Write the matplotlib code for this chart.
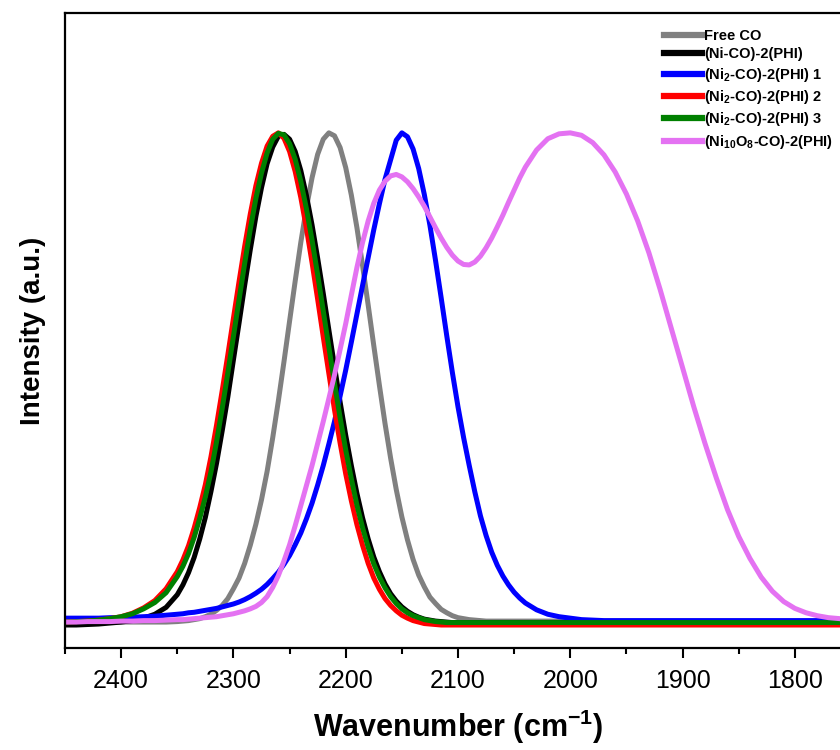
import numpy as np
import matplotlib
matplotlib.use('Agg')
import matplotlib.pyplot as plt
from matplotlib.ticker import MultipleLocator

plt.rcParams['font.family'] = 'Liberation Sans'
plt.rcParams['mathtext.fontset'] = 'custom'
plt.rcParams['mathtext.rm'] = 'Liberation Sans:bold'
plt.rcParams['mathtext.bf'] = 'Liberation Sans:bold'
plt.rcParams['mathtext.default'] = 'bf'

# wavenumber grid (cm-1): coarse at the ends, finer across the peaks
wn = np.concatenate([np.arange(2450, 2349, -10),
                     np.arange(2345, 2039, -5),
                     np.arange(2030, 1749, -10)])

free_co = [0.000, 0.000, 0.000, 0.000, 0.000, 0.000, 0.000, 0.000, 0.000, 0.000, 0.001,
           # 2345 .. 2040 (step 5)
           0.002, 0.003, 0.005, 0.007, 0.011, 0.016, 0.024, 0.034, 0.048, 0.068,
           0.090, 0.120, 0.157, 0.200, 0.250, 0.308, 0.377, 0.452, 0.532, 0.615,
           0.697, 0.776, 0.847, 0.908, 0.956, 0.987, 1.000, 0.994, 0.970, 0.929,
           0.873, 0.806, 0.729, 0.648, 0.565, 0.484, 0.406, 0.335, 0.271, 0.215,
           0.168, 0.128, 0.096, 0.072, 0.051, 0.038, 0.026, 0.019, 0.013, 0.009,
           0.007, 0.005, 0.004, 0.003, 0.002, 0.002, 0.002, 0.002, 0.002, 0.002,
           0.002, 0.002,
           # 2030 .. 1750
           0.002, 0.002, 0.002, 0.002, 0.002, 0.002, 0.002, 0.002, 0.002, 0.002,
           0.002, 0.002, 0.002, 0.002, 0.002, 0.002, 0.002, 0.002, 0.002, 0.002,
           0.002, 0.002, 0.002, 0.002, 0.002, 0.002, 0.002, 0.002, 0.002]

ni_co = [-0.006, -0.006, -0.005, -0.004, -0.002, 0.000, 0.003, 0.008, 0.016, 0.030, 0.056,
         0.076, 0.101, 0.132, 0.170, 0.214, 0.267, 0.325, 0.391, 0.460, 0.536,
         0.611, 0.688, 0.761, 0.829, 0.888, 0.937, 0.971, 0.993, 0.997, 0.987,
         0.962, 0.923, 0.872, 0.812, 0.744, 0.672, 0.597, 0.523, 0.450, 0.382,
         0.320, 0.263, 0.213, 0.170, 0.133, 0.103, 0.078, 0.058, 0.043, 0.031,
         0.022, 0.015, 0.010, 0.006, 0.004, 0.002, 0.001, 0.000, -0.001, -0.001,
         -0.001, -0.001, -0.001, -0.001, -0.001, -0.001, -0.001, -0.001, -0.001, -0.001,
         -0.001, -0.001,
         -0.001, -0.001, -0.001, -0.001, -0.001, -0.001, -0.001, -0.001, -0.001, -0.001,
         -0.001, -0.001, -0.001, -0.001, -0.001, -0.001, -0.001, -0.001, -0.001, -0.001,
         -0.001, -0.001, -0.001, -0.001, -0.001, -0.001, -0.001, -0.001, -0.001]

ni2_1 = [0.008, 0.008, 0.008, 0.008, 0.009, 0.009, 0.010, 0.011, 0.012, 0.014, 0.016,
         0.017, 0.019, 0.020, 0.022, 0.024, 0.026, 0.028, 0.031, 0.034, 0.037,
         0.041, 0.046, 0.052, 0.059, 0.067, 0.077, 0.089, 0.102, 0.118, 0.136,
         0.158, 0.182, 0.211, 0.243, 0.280, 0.320, 0.364, 0.410, 0.462, 0.515,
         0.572, 0.630, 0.688, 0.745, 0.802, 0.855, 0.905, 0.945, 0.985, 1.000,
         0.992, 0.967, 0.927, 0.874, 0.811, 0.739, 0.663, 0.585, 0.510, 0.440,
         0.377, 0.320, 0.266, 0.217, 0.177, 0.143, 0.116, 0.094, 0.076, 0.061,
         0.049, 0.039,
         0.025, 0.016, 0.011, 0.008, 0.005, 0.004, 0.003, 0.003, 0.003, 0.003,
         0.003, 0.003, 0.003, 0.003, 0.003, 0.003, 0.003, 0.003, 0.003, 0.003,
         0.003, 0.003, 0.003, 0.003, 0.003, 0.003, 0.003, 0.003, 0.003]

ni2_2 = [0.000, 0.001, 0.002, 0.004, 0.007, 0.011, 0.018, 0.029, 0.044, 0.068, 0.103,
         0.127, 0.156, 0.192, 0.234, 0.281, 0.338, 0.403, 0.473, 0.546, 0.621,
         0.696, 0.768, 0.834, 0.892, 0.938, 0.973, 0.993, 1.000, 0.989, 0.962,
         0.921, 0.868, 0.805, 0.735, 0.660, 0.583, 0.508, 0.434, 0.366, 0.303,
         0.248, 0.199, 0.157, 0.120, 0.090, 0.067, 0.048, 0.034, 0.023, 0.014,
         0.008, 0.003, 0.000, -0.003, -0.004, -0.005, -0.006, -0.006, -0.006, -0.006,
         -0.006, -0.006, -0.006, -0.006, -0.006, -0.006, -0.006, -0.006, -0.006, -0.006,
         -0.006, -0.006,
         -0.006, -0.006, -0.006, -0.006, -0.006, -0.006, -0.006, -0.006, -0.006, -0.006,
         -0.006, -0.006, -0.006, -0.006, -0.006, -0.006, -0.006, -0.006, -0.006, -0.006,
         -0.006, -0.006, -0.006, -0.006, -0.006, -0.006, -0.006, -0.006, -0.006]

ni2_3 = [0.000, 0.001, 0.002, 0.004, 0.007, 0.011, 0.017, 0.027, 0.040, 0.060, 0.093,
         0.114, 0.140, 0.173, 0.212, 0.256, 0.307, 0.369, 0.437, 0.509, 0.584,
         0.659, 0.733, 0.803, 0.866, 0.918, 0.959, 0.987, 0.999, 0.996, 0.978,
         0.946, 0.901, 0.845, 0.781, 0.710, 0.636, 0.562, 0.488, 0.418, 0.352,
         0.293, 0.239, 0.193, 0.153, 0.119, 0.092, 0.070, 0.052, 0.038, 0.027,
         0.019, 0.013, 0.009, 0.005, 0.003, 0.001, 0.000, -0.001, -0.001, -0.001,
         -0.001, -0.001, -0.001, -0.001, -0.001, -0.001, -0.001, -0.001, -0.001, -0.001,
         -0.001, -0.001,
         -0.001, -0.001, -0.001, -0.001, -0.001, -0.001, -0.001, -0.001, -0.001, -0.001,
         -0.001, -0.001, -0.001, -0.001, -0.001, -0.001, -0.001, -0.001, -0.001, -0.001,
         -0.001, -0.001, -0.001, -0.001, -0.001, -0.001, -0.001, -0.001, -0.001]

ni10o8 = [0.000, 0.000, 0.001, 0.001, 0.001, 0.002, 0.002, 0.003, 0.003, 0.004, 0.005,
          0.005, 0.006, 0.007, 0.008, 0.009, 0.010, 0.011, 0.013, 0.015, 0.017,
          0.020, 0.023, 0.027, 0.032, 0.040, 0.052, 0.071, 0.095, 0.125, 0.158,
          0.197, 0.238, 0.279, 0.320, 0.365, 0.410, 0.457, 0.505, 0.557, 0.610,
          0.668, 0.725, 0.776, 0.820, 0.856, 0.883, 0.901, 0.912, 0.915, 0.910,
          0.900, 0.886, 0.869, 0.850, 0.828, 0.806, 0.785, 0.766, 0.750, 0.738,
          0.731, 0.730, 0.736, 0.748, 0.765, 0.785, 0.808, 0.832, 0.858, 0.883,
          0.908, 0.930,
          0.965, 0.988, 0.998, 1.000, 0.995, 0.980, 0.955, 0.920, 0.875, 0.820,
          0.755, 0.680, 0.600, 0.520, 0.440, 0.365, 0.295, 0.230, 0.175, 0.130,
          0.092, 0.063, 0.042, 0.028, 0.019, 0.013, 0.009, 0.007, 0.005]

series = [
    (free_co, '#808080', 'Free CO'),
    (ni_co, '#000000', '(Ni-CO)-2(PHI)'),
    (ni2_1, '#0000FF', '(Ni$_2$-CO)-2(PHI) 1'),
    (ni2_2, '#FF0000', '(Ni$_2$-CO)-2(PHI) 2'),
    (ni2_3, '#008000', '(Ni$_2$-CO)-2(PHI) 3'),
    (ni10o8, '#E472F2', '(Ni$_{10}$O$_8$-CO)-2(PHI)'),
]

fig = plt.figure(figsize=(8.4, 7.5), dpi=100)
ax = fig.add_axes([65/840, 102/750, 786/840, 635/750])

for y, c, lab in series:
    ax.plot(wn, y, color=c, lw=3.6, label=lab, solid_joinstyle='round')

ax.set_xlim(2450, 1750)
ax.set_ylim(-0.053, 1.245)
ax.set_yticks([])
ax.xaxis.set_major_locator(MultipleLocator(100))
ax.xaxis.set_minor_locator(MultipleLocator(50))
ax.tick_params(axis='x', which='major', direction='out', length=7, width=1.5,
               labelsize=18, pad=8)
ax.tick_params(axis='x', which='minor', direction='out', length=4, width=1.5)
for s in ax.spines.values():
    s.set_linewidth(1.6)

ax.set_xlabel('Wavenumber (cm$^{-1}$)', fontsize=22, fontweight='bold', labelpad=11)
ax.set_ylabel('Intensity (a.u.)', fontsize=20, fontweight='bold', labelpad=14)

leg = ax.legend(loc='upper left', bbox_to_anchor=(664/840, 1 - 29/750),
                bbox_transform=fig.transFigure, frameon=False,
                prop={'weight': 'bold', 'size': 10.5}, handlelength=2.6,
                handletextpad=0.15, labelspacing=0.3, borderpad=0, borderaxespad=0)
for h in leg.get_lines():
    h.set_linewidth(4.5)

fig.savefig('out.png', dpi=100)
